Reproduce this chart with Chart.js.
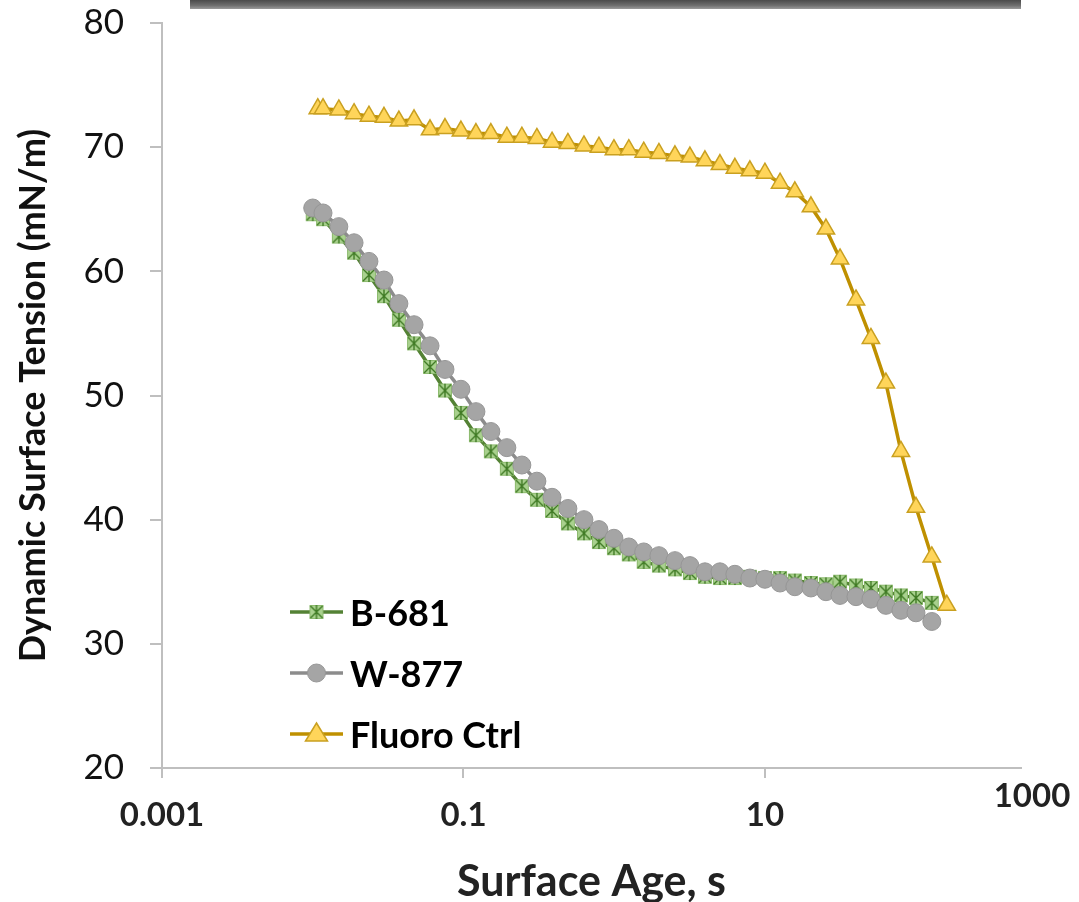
<!DOCTYPE html>
<html>
<head>
<meta charset="utf-8">
<script src="https://cdn.jsdelivr.net/npm/chart.js@4.4.1/dist/chart.umd.min.js"></script>
<style>
  html, body { margin: 0; padding: 0; background: #fff; }
  #wrap { position: relative; width: 1079px; height: 902px; }
  #topbar {
    position: absolute; left: 190px; top: 0; width: 831px; height: 9px;
    background: linear-gradient(to bottom, #4a4a4a, #6e6e6e 60%, #9a9a9a);
  }
</style>
</head>
<body>
<div id="wrap">
  <canvas id="dstChart" width="1079" height="902"></canvas>
  <div id="topbar"></div>
</div>
<script>
"use strict";

// surface age (s) and dynamic surface tension (mN/m)
const b681Age = [0.010, 0.0117, 0.0149, 0.0188, 0.0236, 0.0297, 0.0373, 0.047, 0.060, 0.0754,
    0.0962, 0.121, 0.152, 0.194, 0.244, 0.307, 0.387, 0.493, 0.630, 0.792,
    0.996, 1.25, 1.57, 1.98, 2.53, 3.18, 4.00, 5.03, 6.32, 7.95,
    10.0, 12.6, 15.8, 20.2, 25.4, 31.5, 40.2, 50.5, 63.5, 79.9,
    100.5, 128];
const b681Tension = [64.6, 64.2, 62.8, 61.5, 59.7, 58.0, 56.1, 54.2, 52.3, 50.4,
    48.6, 46.8, 45.5, 44.1, 42.7, 41.6, 40.7, 39.7, 38.9, 38.2,
    37.7, 37.2, 36.6, 36.3, 36.0, 35.7, 35.4, 35.3, 35.3, 35.4,
    35.3, 35.3, 35.1, 34.9, 34.8, 35.0, 34.7, 34.5, 34.2, 33.9,
    33.7, 33.3];

const w877Age = [0.010, 0.0117, 0.0149, 0.0188, 0.0236, 0.0297, 0.0373, 0.047, 0.060, 0.0754,
    0.0962, 0.121, 0.152, 0.194, 0.244, 0.307, 0.387, 0.493, 0.630, 0.792,
    0.996, 1.25, 1.57, 1.98, 2.53, 3.18, 4.00, 5.03, 6.32, 7.95,
    10.0, 12.6, 15.8, 20.2, 25.4, 31.5, 40.2, 50.5, 63.5, 79.9,
    100.5, 128];
const w877Tension = [65.1, 64.7, 63.6, 62.3, 60.8, 59.3, 57.4, 55.7, 54.0, 52.1,
    50.5, 48.7, 47.1, 45.8, 44.4, 43.1, 41.8, 40.9, 40.0, 39.2,
    38.5, 37.8, 37.4, 37.1, 36.7, 36.3, 35.8, 35.8, 35.6, 35.3,
    35.2, 34.9, 34.6, 34.5, 34.2, 33.9, 33.8, 33.6, 33.1, 32.7,
    32.5, 31.8];

const fluoroAge = [0.0108, 0.0117, 0.0149, 0.0188, 0.0236, 0.0297, 0.0373, 0.047, 0.060, 0.0754,
    0.0962, 0.121, 0.152, 0.194, 0.244, 0.307, 0.387, 0.493, 0.630, 0.792,
    0.996, 1.25, 1.57, 1.98, 2.53, 3.18, 4.00, 5.03, 6.32, 7.95,
    10.0, 12.6, 15.8, 20.2, 25.4, 31.5, 40.2, 50.5, 63.5, 79.9,
    100.5, 128, 161];
const fluoroTension = [73.1, 73.1, 73.0, 72.7, 72.5, 72.4, 72.1, 72.2, 71.4, 71.5,
    71.3, 71.1, 71.1, 70.8, 70.8, 70.7, 70.4, 70.3, 70.1, 70.0,
    69.8, 69.8, 69.6, 69.5, 69.3, 69.2, 68.9, 68.6, 68.3, 68.1,
    67.9, 67.1, 66.4, 65.2, 63.4, 61.0, 57.7, 54.6, 51.0, 45.5,
    41.0, 37.0, 33.1];

const seriesNames = ['B-681', 'W-877', 'Fluoro Ctrl'];
const xTickValues = [0.001, 0.1, 10];
const xEndLabel = '1000';
const yTickValues = [20, 30, 40, 50, 60, 70, 80];

const FONT = 'Lato, "Open Sans", sans-serif';

function toPoints(xs, ys) {
    return xs.map((x, i) => ({ x: x, y: ys[i] }));
}

// green square with an asterisk, like the Excel marker
function makeAsteriskMarker() {
    const c = document.createElement('canvas');
    c.width = 18;
    c.height = 18;
    const g = c.getContext('2d');
    g.fillStyle = '#a9d18e';
    g.strokeStyle = '#8dbb6f';
    g.lineWidth = 1;
    g.fillRect(2, 2, 14, 14);
    g.strokeRect(2.5, 2.5, 13, 13);
    g.strokeStyle = '#3f7a24';
    g.lineWidth = 1.4;
    g.beginPath();
    g.moveTo(3, 3); g.lineTo(15, 15);
    g.moveTo(15, 3); g.lineTo(3, 15);
    g.moveTo(9, 2); g.lineTo(9, 16);
    g.stroke();
    return c;
}
const asteriskMarker = makeAsteriskMarker();

const styles = [
    { line: '#548235', fill: '#a9d18e', border: '#548235' },
    { line: '#8c8c8c', fill: '#a5a5a5', border: '#969696' },
    { line: '#bf9000', fill: '#ffd55a', border: '#c9a020' }
];

// legend drawn inside the plot, bottom left
const insideLegend = {
    id: 'insideLegend',
    afterDraw(chart) {
        const ctx = chart.ctx;
        const x0 = 290, x1 = 343, textX = 350;
        const rows = [612, 673, 734];
        ctx.save();
        ctx.font = 'bold 36px ' + FONT;
        ctx.textBaseline = 'middle';
        ctx.fillStyle = '#000';
        rows.forEach((y, i) => {
            const mid = (x0 + x1) / 2;
            ctx.strokeStyle = styles[i].line;
            ctx.lineWidth = 3.5;
            ctx.beginPath();
            ctx.moveTo(x0, y);
            ctx.lineTo(x1, y);
            ctx.stroke();
            if (i === 0) {
                ctx.drawImage(asteriskMarker, mid - 9, y - 9);
            } else if (i === 1) {
                ctx.fillStyle = styles[1].fill;
                ctx.strokeStyle = styles[1].border;
                ctx.lineWidth = 1;
                ctx.beginPath();
                ctx.arc(mid, y, 9, 0, Math.PI * 2);
                ctx.fill();
                ctx.stroke();
            } else {
                ctx.fillStyle = styles[2].fill;
                ctx.strokeStyle = styles[2].border;
                ctx.lineWidth = 1.5;
                ctx.beginPath();
                ctx.moveTo(mid, y - 11);
                ctx.lineTo(mid + 11, y + 7);
                ctx.lineTo(mid - 11, y + 7);
                ctx.closePath();
                ctx.fill();
                ctx.stroke();
            }
            ctx.fillStyle = '#000';
            ctx.fillText(seriesNames[i], textX, y + 2);
        });
        ctx.restore();
    }
};

// the last decade label sits at the right end of the x axis
const axisEndLabel = {
    id: 'axisEndLabel',
    afterDraw(chart) {
        const xs = chart.scales.x;
        const items = xs.getLabelItems();
        if (!items.length) return;
        const opt = items[0].options;
        const ctx = chart.ctx;
        ctx.save();
        ctx.font = 'bold 33px ' + FONT;
        ctx.fillStyle = '#222';
        ctx.textAlign = 'center';
        ctx.textBaseline = opt.textBaseline;
        ctx.fillText(xEndLabel, xs.right + 11, opt.translation[1] + (opt.textOffset || 0));
        ctx.restore();
    }
};

const ctx = document.getElementById('dstChart');

new Chart(ctx, {
    type: 'line',
    data: {
        datasets: [
            {
                label: seriesNames[0],
                data: toPoints(b681Age, b681Tension),
                borderColor: styles[0].line,
                borderWidth: 3.5,
                pointStyle: asteriskMarker,
                pointRadius: 9,
                order: 3
            },
            {
                label: seriesNames[1],
                data: toPoints(w877Age, w877Tension),
                borderColor: styles[1].line,
                borderWidth: 3.5,
                pointStyle: 'circle',
                pointRadius: 9,
                pointBackgroundColor: styles[1].fill,
                pointBorderColor: styles[1].border,
                pointBorderWidth: 1,
                order: 2
            },
            {
                label: seriesNames[2],
                data: toPoints(fluoroAge, fluoroTension),
                borderColor: styles[2].line,
                borderWidth: 3.5,
                pointStyle: 'triangle',
                pointRadius: 10,
                pointBackgroundColor: styles[2].fill,
                pointBorderColor: styles[2].border,
                pointBorderWidth: 1.5,
                order: 1
            }
        ]
    },
    options: {
        responsive: false,
        animation: false,
        devicePixelRatio: 1,
        layout: { padding: { left: 0, right: 58, top: 0, bottom: 0 } },
        plugins: {
            legend: { display: false },
            tooltip: { enabled: false }
        },
        elements: { line: { tension: 0 } },
        scales: {
            x: {
                type: 'logarithmic',
                min: 0.001,
                max: 500,
                afterBuildTicks: function(scale) {
                    scale.ticks = xTickValues.map(v => ({ value: v }));
                },
                afterFit: function(scale) {
                    scale.height = 134;
                },
                border: { color: '#bfbfbf', width: 2 },
                grid: {
                    drawOnChartArea: false,
                    color: '#bfbfbf',
                    lineWidth: 2,
                    tickLength: 10
                },
                ticks: {
                    autoSkip: false,
                    maxRotation: 0,
                    padding: 18,
                    color: '#222',
                    font: { family: FONT, size: 33, weight: 'bold' },
                    callback: function(value) {
                        return String(value);
                    }
                },
                title: {
                    display: true,
                    text: 'Surface Age, s',
                    align: 'center',
                    color: '#222',
                    font: { family: FONT, size: 43, weight: 'bold' },
                    padding: { top: 0, bottom: -6 }
                }
            },
            y: {
                min: 20,
                max: 80,
                afterBuildTicks: function(scale) {
                    scale.ticks = yTickValues.map(v => ({ value: v }));
                },
                afterFit: function(scale) {
                    scale.width = 162;
                    scale.paddingTop = 23;
                    scale.paddingBottom = 0;
                },
                border: { color: '#bfbfbf', width: 2 },
                grid: {
                    drawOnChartArea: false,
                    color: '#bfbfbf',
                    lineWidth: 2,
                    tickLength: 12
                },
                ticks: {
                    padding: 26,
                    color: '#111',
                    font: { family: FONT, size: 35 }
                },
                title: {
                    display: true,
                    text: 'Dynamic Surface Tension (mN/m)',
                    color: '#111',
                    font: { family: FONT, size: 36, weight: 'bold' },
                    padding: { top: 12, bottom: 0 }
                }
            }
        }
    },
    plugins: [insideLegend, axisEndLabel]
});
</script>
</body>
</html>
